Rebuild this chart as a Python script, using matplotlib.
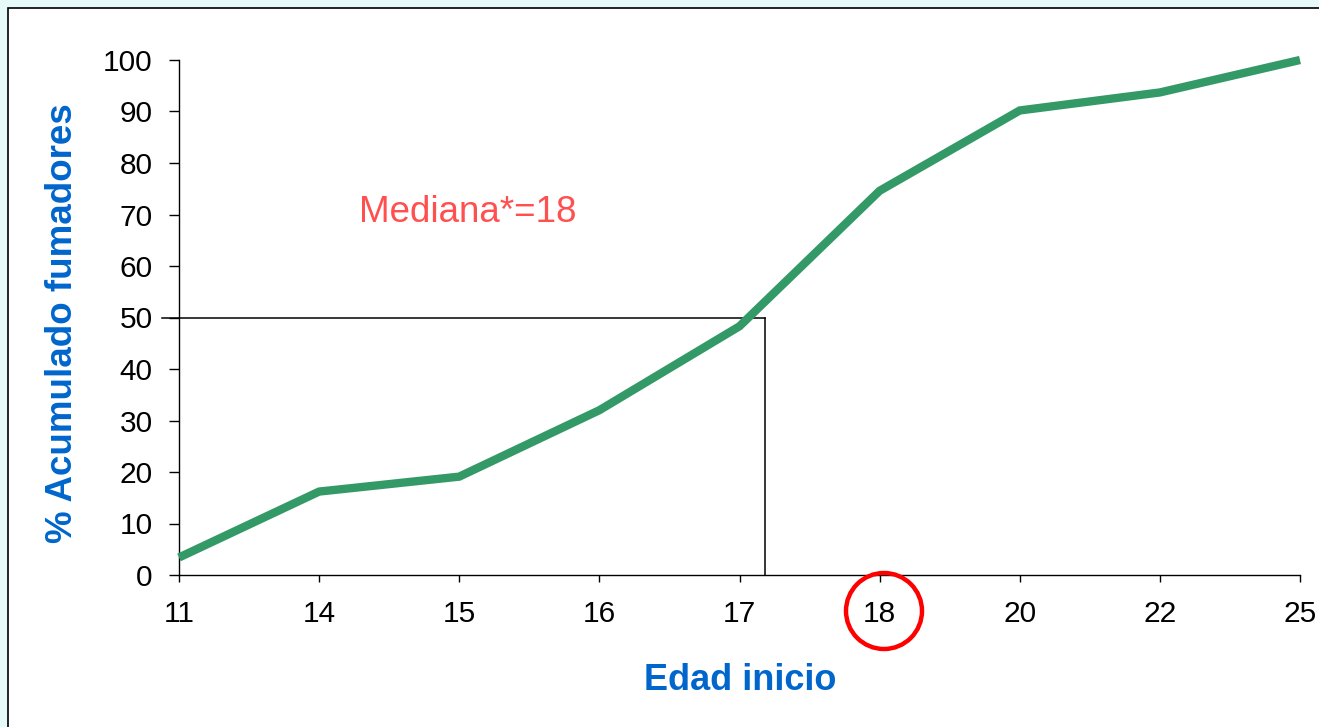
import matplotlib.pyplot as plt
from matplotlib.patches import Rectangle, Ellipse

# datos
edades = ['11', '14', '15', '16', '17', '18', '20', '22', '25']
acumulado = [3.4, 16.2, 19.1, 32.0, 48.3, 74.6, 90.2, 93.7, 100.0]
mediana_y = 50
mediana_x = 4.18  # posicion donde se cruza el 50 %
texto_mediana = 'Mediana*=18'

plt.rcParams['font.family'] = ['Liberation Sans', 'DejaVu Sans']

fig = plt.figure(figsize=(13.19, 7.27), dpi=100)
fig.patch.set_facecolor('#e6fafa')

# panel blanco con borde negro
W, H = 1319, 727
fig.patches.append(Rectangle((8 / W, -0.1), 1.2, 1 - 8 / H + 0.1, transform=fig.transFigure,
                             facecolor='white', edgecolor='black', linewidth=1.2, zorder=-1))

ax = fig.add_axes([179 / W, 1 - 575 / H, (1300 - 179) / W, (575 - 60) / H])
ax.patch.set_alpha(0)

x = list(range(len(edades)))
ax.plot(x, acumulado, color='#339966', linewidth=6.0, solid_joinstyle='miter',
        solid_capstyle='butt', clip_on=False, zorder=3)

# lineas de la mediana
ax.plot([-0.12, mediana_x], [mediana_y, mediana_y], color='black', linewidth=1.1,
        clip_on=False, zorder=2)
ax.plot([mediana_x, mediana_x], [0, mediana_y], color='black', linewidth=1.1, zorder=2)

ax.text(2.06, 70.3, texto_mediana, color='#ff5050', fontsize=26.5, ha='center', va='center')

ax.set_xlim(0, len(edades) - 1)
ax.set_ylim(0, 100)
ax.set_xticks(x)
ax.set_xticklabels(edades)
ax.set_yticks(range(0, 101, 10))

for s in ['top', 'right']:
    ax.spines[s].set_visible(False)
for s in ['left', 'bottom']:
    ax.spines[s].set_linewidth(1.0)

ax.tick_params(axis='x', length=5, width=1, labelsize=21.5, pad=13)
ax.tick_params(axis='y', length=7, width=1, labelsize=21.5, pad=12)

ax.set_xlabel('Edad inicio', fontsize=26, fontweight='bold', color='#0066cc')
ax.xaxis.label.set_verticalalignment('center')
ax.xaxis.set_label_coords(0.501, -0.205)
ax.set_ylabel('% Acumulado fumadores', fontsize=26.5, fontweight='bold', color='#0066cc')
ax.yaxis.label.set_verticalalignment('center')
ax.yaxis.set_label_coords(-0.104, 0.49)

# circulo rojo alrededor del 18
fig.patches.append(Ellipse((884 / W, 1 - 611 / H), 76 / W, 76 / H, transform=fig.transFigure,
                           facecolor='none', edgecolor='red', linewidth=3.2, zorder=5))

fig.savefig('out.png', dpi=100, facecolor=fig.get_facecolor())
